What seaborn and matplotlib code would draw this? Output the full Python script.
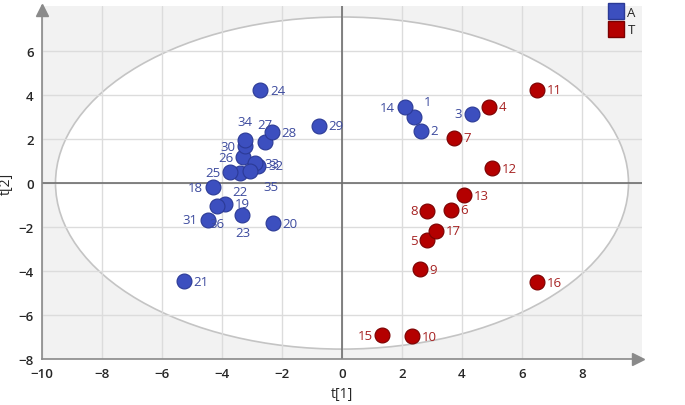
import numpy as np
import pandas as pd
import matplotlib
matplotlib.use("Agg")
import matplotlib.pyplot as plt
from matplotlib.patches import Ellipse
from matplotlib.lines import Line2D
from matplotlib.ticker import MultipleLocator, FixedLocator
import seaborn as sns

# group A scores
ids_a = [1, 2, 3, 14, 18, 19, 20, 21, 22, 23, 24, 25, 26, 27, 28, 29, 30, 31, 32, 33, 34, 35, 36]
t1_a = [2.40, 2.63, 4.32, 2.10, -4.31, -3.90, -2.31, -5.27, -3.40, -3.32, -2.73, -3.73, -3.29,
        -2.57, -2.34, -0.77, -3.23, -4.48, -2.79, -2.90, -3.23, -3.07, -4.18]
t2_a = [3.01, 2.38, 3.14, 3.44, -0.20, -0.95, -1.82, -4.47, 0.45, -1.45, 4.23, 0.50, 1.17,
        1.85, 2.30, 2.60, 1.67, -1.67, 0.78, 0.91, 1.97, 0.56, -1.03]

# group T scores
ids_t = [4, 5, 6, 7, 8, 9, 10, 11, 12, 13, 15, 16, 17]
t1_t = [4.90, 2.84, 3.62, 3.74, 2.84, 2.60, 2.34, 6.49, 4.99, 4.07, 1.34, 6.51, 3.12]
t2_t = [3.48, -2.59, -1.21, 2.05, -1.26, -3.91, -6.97, 4.24, 0.68, -0.55, -6.91, -4.52, -2.17]

# tick labels shown
xticks = [-10, -8, -6, -4, -2, 0, 2, 4, 6, 8]
yticks = [-8, -6, -4, -2, 0, 2, 4, 6]

# ellipse semi axes (Hotelling T2)
ell_a, ell_b = 9.55, 7.55

df = pd.DataFrame({
    "t1": t1_a + t1_t,
    "t2": t2_a + t2_t,
    "group": ["A"] * len(ids_a) + ["T"] * len(ids_t),
    "id": ids_a + ids_t,
})

colors = {"A": "#3c4fbf", "T": "#b40000"}
edges = {"A": "#2b3a96", "T": "#7a0000"}
txtcol = {"A": "#3d4b9e", "T": "#a62222"}

# where the number sits relative to the dot
place = {14: "l", 3: "l", 8: "l", 5: "l", 15: "l", 31: "l", 18: "l", 25: "l", 26: "l", 30: "l",
         34: "a", 27: "a", 1: "ar", 22: "b", 23: "b", 36: "b", 35: "br"}
offs = {"r": ((7, 0), "left"), "l": ((-7, 0), "right"), "a": ((0, 13), "center"),
        "b": ((0, -13), "center"), "ar": ((7, 11), "left"), "br": ((10, -11), "left")}

sns.set_style("white")
plt.rcParams["font.family"] = ["Open Sans", "DejaVu Sans"]

fig = plt.figure(figsize=(6.85, 4.06), dpi=100)
ax = fig.add_axes([42 / 685, 46 / 406, 600 / 685, 353 / 406])
ax.set_facecolor("#f2f2f2")

ax.add_patch(Ellipse((0, 0), 2 * ell_a, 2 * ell_b, facecolor="white",
                     edgecolor="#c4c4c4", lw=1.2, zorder=0.2))

ax.set_xlim(-10, 10)
ax.set_ylim(-8, 8.05)
ax.xaxis.set_major_locator(FixedLocator(xticks))
ax.yaxis.set_major_locator(FixedLocator(yticks))
ax.xaxis.set_minor_locator(MultipleLocator(1))
ax.yaxis.set_minor_locator(MultipleLocator(1))
ax.set_axisbelow(True)
ax.grid(True, which="major", color="#dcdcdc", lw=1)
ax.axhline(0, color="#6e6e6e", lw=1.2, zorder=1)
ax.axvline(0, color="#6e6e6e", lw=1.2, zorder=1)

for g in ["A", "T"]:
    sub = df[df["group"] == g]
    sns.scatterplot(data=sub, x="t1", y="t2", color=colors[g], edgecolor=edges[g],
                    linewidth=0.8, s=115, ax=ax, zorder=3, legend=False)
    for _, r in sub.iterrows():
        (dx, dy), ha = offs[place.get(r["id"], "r")]
        ax.annotate(str(r["id"]), (r["t1"], r["t2"]), xytext=(dx, dy),
                    textcoords="offset points", ha=ha, va="center",
                    fontsize=9.5, color=txtcol[g], zorder=4)

for s in ["top", "right"]:
    ax.spines[s].set_visible(False)
for s in ["left", "bottom"]:
    ax.spines[s].set_color("#8a8a8a")
    ax.spines[s].set_linewidth(1.2)
ax.plot(0.993, 0, ">", transform=ax.transAxes, clip_on=False, color="#8a8a8a", ms=8, zorder=5)
ax.plot(0, 0.99, "^", transform=ax.transAxes, clip_on=False, color="#8a8a8a", ms=8, zorder=5)

ax.tick_params(which="both", direction="inout", color="#8a8a8a")
ax.tick_params(which="major", length=6, labelsize=9.5, pad=3)
ax.tick_params(which="minor", length=4)
for lab in ax.get_xticklabels() + ax.get_yticklabels():
    lab.set_fontweight("semibold")
ax.set_xlabel("t[1]", fontsize=10, labelpad=4)
ax.set_ylabel("t[2]", fontsize=10, labelpad=3)

handles = [Line2D([], [], marker="s", ls="", ms=12, markerfacecolor=colors[g],
                  markeredgecolor=edges[g], label=g) for g in ["A", "T"]]
fig.legend(handles=handles, loc="upper left", bbox_to_anchor=(601 / 685, 1.0),
           frameon=False, fontsize=9.5, handletextpad=0.3, labelspacing=0.35,
           borderaxespad=0.1, handlelength=1.2)

fig.savefig("out.png", dpi=100)
